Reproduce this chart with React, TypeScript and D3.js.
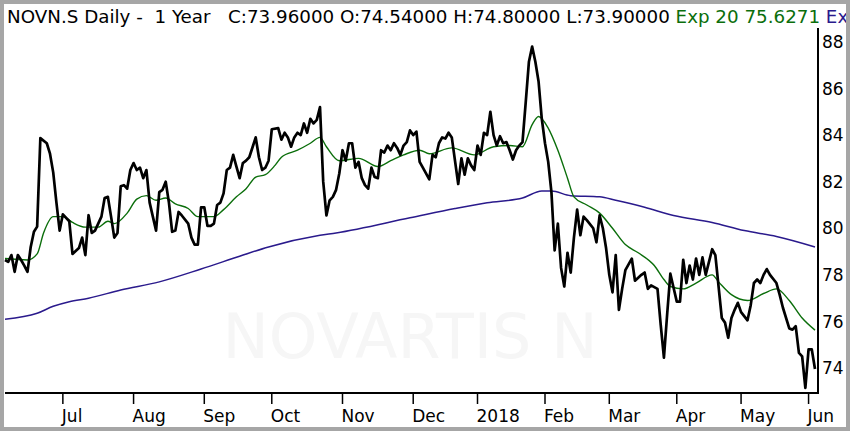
import React from 'react';
import * as d3 from 'd3';

// trading-day index (0 = first day shown) and closing price
const closeSeries: [number, number][] = [
  [0, 78.64], [1, 78.56], [2, 78.85], [3, 78.13], [4, 78.85], [5, 78.64], [6, 78.4], [7, 78.13], [8, 79.2], [9, 79.85],
  [10, 80.07], [11, 83.87], [13, 83.65], [14, 83.2], [15, 82.4], [16, 81.1], [17, 79.9], [18, 80.6], [20, 80.3], [21, 78.9],
  [23, 79.15], [24, 79.6], [25, 78.85], [26, 80.56], [27, 79.8], [28, 79.9], [30, 80.5], [31, 81.3], [32, 81.35], [33, 80.5],
  [34, 79.6], [35, 79.8], [36, 81.8], [37, 81.85], [38, 81.7], [39, 82.5], [40, 82.8], [41, 82.5], [42, 82.6], [43, 82.15],
  [44, 82.5], [45, 81.1], [46, 80.5], [47, 79.9], [48, 81.55], [49, 81.65], [50, 82.0], [51, 81.1], [52, 79.85], [53, 79.9],
  [54, 80.7], [55, 80.55], [57, 80.2], [58, 79.6], [59, 79.3], [60, 79.3], [61, 80.9], [62, 80.9], [63, 80.1], [64, 80.1],
  [65, 80.2], [66, 81.0], [67, 81.1], [68, 81.5], [69, 82.5], [70, 82.6], [71, 83.15], [72, 82.65], [73, 82.15], [74, 82.8],
  [75, 82.9], [76, 83.05], [78, 83.9], [79, 83.05], [80, 82.5], [81, 82.6], [82, 82.9], [83, 84.25], [85, 84.3], [86, 83.8],
  [87, 84.1], [88, 83.9], [89, 83.5], [90, 83.9], [91, 84.1], [92, 84.0], [93, 84.5], [94, 84.1], [95, 84.7], [96, 84.5],
  [97, 84.65], [98, 85.2], [99, 82.0], [100, 80.55], [101, 81.2], [102, 81.35], [103, 81.65], [104, 82.35], [105, 83.35], [106, 82.9],
  [107, 83.65], [108, 83.65], [109, 82.6], [110, 82.85], [111, 82.15], [112, 81.85], [113, 81.7], [114, 82.6], [115, 82.2], [116, 82.15],
  [117, 83.35], [118, 83.25], [119, 83.55], [120, 83.35], [121, 83.65], [122, 83.45], [123, 83.15], [124, 83.55], [125, 83.7], [126, 84.2],
  [127, 84.0], [128, 84.15], [129, 82.85], [130, 82.6], [132, 82.1], [133, 83.15], [134, 83.05], [135, 83.65], [136, 83.9], [137, 83.85],
  [138, 84.1], [139, 83.9], [141, 81.9], [142, 83.0], [143, 82.3], [144, 83.0], [145, 82.7], [146, 82.5], [147, 83.55], [148, 83.15],
  [149, 84.1], [150, 84.0], [151, 85.0], [152, 84.0], [153, 83.55], [154, 83.95], [155, 83.65], [156, 83.7], [157, 83.35], [158, 82.95],
  [159, 83.35], [160, 83.55], [161, 83.7], [162, 85.4], [163, 87.15], [164, 87.8], [165, 87.15], [166, 86.3], [167, 84.7], [168, 83.65],
  [169, 82.85], [170, 81.55], [171, 79.05], [172, 80.2], [173, 78.3], [174, 77.5], [175, 78.95], [176, 78.1], [177, 79.6], [178, 80.8],
  [179, 79.7], [180, 80.5], [181, 80.35], [183, 80.0], [184, 79.4], [185, 80.55], [186, 80.0], [187, 79.15], [188, 78.0], [189, 77.25],
  [190, 78.85], [191, 76.5], [192, 77.4], [193, 78.2], [195, 78.7], [196, 77.75], [198, 78.0], [199, 78.1], [200, 77.4], [201, 77.55],
  [203, 77.4], [204, 75.85], [205, 74.45], [206, 76.3], [207, 78.05], [208, 77.45], [209, 76.85], [210, 76.85], [211, 78.65], [212, 77.65],
  [213, 78.4], [214, 77.8], [215, 78.7], [216, 78.0], [217, 78.75], [218, 78.0], [220, 79.1], [221, 78.85], [223, 76.15], [224, 75.95],
  [225, 75.3], [226, 76.15], [227, 76.5], [228, 76.8], [229, 76.4], [231, 76.05], [232, 76.7], [233, 77.65], [234, 77.8], [235, 77.65],
  [236, 78.0], [237, 78.25], [238, 78.0], [240, 77.65], [241, 77.15], [242, 76.6], [244, 75.7], [245, 75.65], [246, 75.8], [247, 74.65],
  [248, 74.5], [249, 73.15], [250, 74.8], [251, 74.8], [252, 73.96],
];

// Exp 20 moving average
const ema20Series: [number, number][] = [
  [0, 78.7], [7, 78.64], [10, 78.9], [12, 79.8], [15, 80.5], [18, 80.5], [21, 80.25], [25, 80.05], [29, 80.05], [32, 80.3],
  [34, 80.2], [38, 80.65], [41, 81.25], [44, 81.4], [47, 81.2], [50, 81.3], [53, 81.05], [57, 80.85], [60, 80.5], [65, 80.5],
  [68, 80.8], [72, 81.35], [75, 81.7], [78, 82.2], [81, 82.3], [84, 82.7], [86, 83.05], [91, 83.35], [95, 83.65], [98, 83.9],
  [100, 83.5], [104, 82.9], [110, 83.0], [116, 82.65], [120, 82.9], [124, 83.15], [129, 83.35], [132, 83.2], [139, 83.45], [146, 83.15],
  [152, 83.5], [157, 83.55], [161, 83.5], [164, 84.45], [166, 84.8], [169, 84.3], [172, 83.35], [175, 82.15], [177, 81.35], [181, 81.0],
  [185, 80.65], [189, 80.0], [193, 79.3], [197, 78.95], [202, 78.4], [205, 77.8], [207, 77.5], [211, 77.4], [215, 77.65], [220, 78.0],
  [222, 77.7], [226, 77.15], [231, 76.9], [236, 77.2], [240, 77.4], [244, 76.9], [248, 76.15], [252, 75.63],
];

// long exponential average (blue)
const emaLongSeries: [number, number][] = [
  [0, 76.1], [10, 76.35], [15, 76.65], [20, 76.85], [26, 77.0], [36, 77.35], [48, 77.7], [61, 78.25], [73, 78.8], [82, 79.2],
  [98, 79.7], [103, 79.8], [126, 80.45], [140, 80.85], [150, 81.1], [161, 81.3], [167, 81.6], [170, 81.6], [176, 81.4], [185, 81.35],
  [190, 81.2], [199, 80.9], [208, 80.55], [220, 80.25], [230, 79.9], [240, 79.65], [252, 79.2],
];

const monthLabels = ['Jul', 'Aug', 'Sep', 'Oct', 'Nov', 'Dec', '2018', 'Feb', 'Mar', 'Apr', 'May', 'Jun'];
const monthDays = [18, 40, 62, 83, 105, 127, 147, 168, 188, 209, 229, 250];
const priceTicks = [74, 76, 78, 80, 82, 84, 86, 88];

const W = 850;
const H = 431;
const left = 5;
const right = 818;
const top = 30;
const bottom = 393;
const font = '"DejaVu Sans", Verdana, sans-serif';

const App: React.FC = () => {
  const x = d3.scaleLinear().domain([0, 252]).range([left, 815]);
  const y = d3.scaleLinear().domain([72.93, 88.51]).range([bottom, top]);

  const line = d3
    .line<[number, number]>()
    .x((d) => x(d[0]))
    .y((d) => y(d[1]));
  const smooth = d3
    .line<[number, number]>()
    .x((d) => x(d[0]))
    .y((d) => y(d[1]))
    .curve(d3.curveMonotoneX);

  return (
    <div style={{ position: 'fixed', left: 0, top: 0 }}>
      <svg width={W} height={H} style={{ display: 'block', background: '#fff' }} fontFamily={font}>
        <defs>
          <clipPath id="hdr">
            <rect x={4} y={0} width={842} height={30} />
          </clipPath>
        </defs>

        {/* watermark */}
        <text x={410} y={358} textAnchor="middle" fontSize={63} fill="#f6f6f6" textLength={375} lengthAdjust="spacingAndGlyphs">
          NOVARTIS N
        </text>

        <path d={smooth(emaLongSeries) ?? ''} fill="none" stroke="#2a1a8c" strokeWidth={1.5} />
        <path d={smooth(ema20Series) ?? ''} fill="none" stroke="#0b6e0b" strokeWidth={1.4} />
        <path d={line(closeSeries) ?? ''} fill="none" stroke="#000" strokeWidth={2.7} strokeLinejoin="round" />

        {/* axes */}
        <line x1={left} x2={right} y1={bottom} y2={bottom} stroke="#000" strokeWidth={2} />
        <line x1={right} x2={right} y1={28} y2={bottom + 1} stroke="#000" strokeWidth={2} />
        {monthDays.map((d, i) => (
          <g key={monthLabels[i]}>
            <line x1={x(d)} x2={x(d)} y1={bottom} y2={bottom + 11} stroke="#000" strokeWidth={1.5} />
            <text x={x(d) - 1} y={422} fontSize={17} fill="#000">
              {monthLabels[i]}
            </text>
          </g>
        ))}
        {priceTicks.map((t) => (
          <text key={t} x={822} y={y(t)} dy="0.36em" fontSize={17} fill="#000">
            {t}
          </text>
        ))}

        {/* header, cut off at the frame as in the original */}
        <g clipPath="url(#hdr)">
          <text x={7} y={23} fontSize={18.3} xmlSpace="preserve" style={{ whiteSpace: 'pre' }}>
            <tspan fill="#000">{'NOVN.S Daily -  1 Year   C:73.96000 O:74.54000 H:74.80000 L:73.90000 '}</tspan>
            <tspan fill="#0b6e0b">{'Exp 20 75.6271 '}</tspan>
            <tspan fill="#2a1a8c">{'Exp 200 79.2000'}</tspan>
          </text>
        </g>

        {/* frame */}
        <rect x={2} y={2} width={W - 4} height={H - 4} fill="none" stroke="#a6a6a6" strokeWidth={4} />
      </svg>
    </div>
  );
};

export default App;
